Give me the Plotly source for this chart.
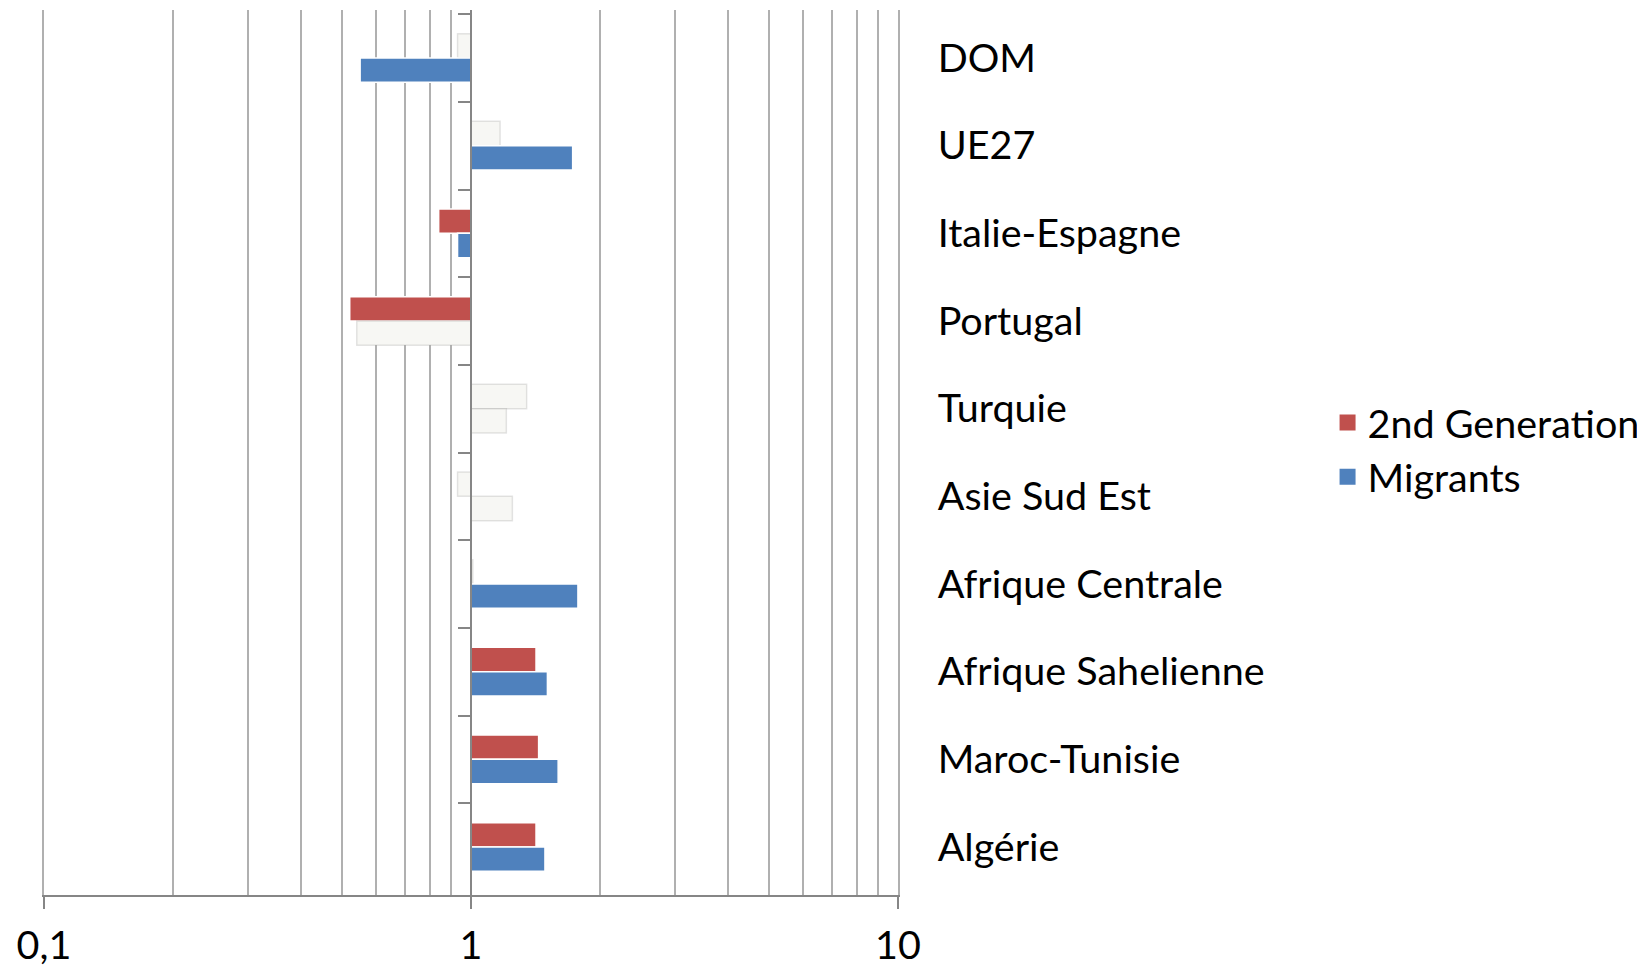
import plotly.graph_objects as go

# categories, top to bottom as in the chart
categories = ["DOM", "UE27", "Italie-Espagne", "Portugal", "Turquie",
              "Asie Sud Est", "Afrique Centrale", "Afrique Sahelienne",
              "Maroc-Tunisie", "Algérie"]

# odds ratios (log scale, bars drawn from 1)
second_gen = [0.93, 1.17, 0.84, 0.52, 1.35, 0.93, 1.01, 1.42, 1.44, 1.42]
migrants = [0.55, 1.73, 0.93, 0.54, 1.21, 1.25, 1.78, 1.51, 1.60, 1.49]

# significant -> coloured, otherwise drawn near-white
second_gen_sig = [False, False, True, True, False, False, False, True, True, True]
migrants_sig = [True, True, True, False, False, False, True, True, True, True]

x_tickvals = [0.1, 1, 10]
x_ticktext = ["0,1", "1", "10"]

RED = "#C0504D"
BLUE = "#4F81BD"
PALE = "#F7F7F4"
GRID = "#B0B0B0"
AXIS = "#868686"
FONT = "Lato, Carlito, Calibri, sans-serif"
FS = 39.5


def bar_trace(name, values, sig, color, group):
    colors = [color if s else PALE for s in sig]
    lines = ["white" if s else "rgba(0,0,0,0.10)" for s in sig]
    return go.Bar(
        name=name,
        y=categories,
        x=[v - 1 for v in values],
        base=1,
        orientation="h",
        offsetgroup=group,
        legendgroup=group,
        showlegend=False,
        marker=dict(color=colors, line=dict(color=lines, width=1.5)),
        customdata=values,
        hovertemplate="%{y}: %{customdata}<extra>" + name + "</extra>",
    )


def legend_entry(name, color, group):
    return go.Scatter(x=[None], y=[None], mode="markers", name=name,
                      legendgroup=group,
                      marker=dict(symbol="square", size=22, color=color))


fig = go.Figure()
fig.add_trace(bar_trace("2nd Generation", second_gen, second_gen_sig, RED, "g2"))
fig.add_trace(bar_trace("Migrants", migrants, migrants_sig, BLUE, "mig"))
fig.add_trace(legend_entry("2nd Generation", RED, "g2"))
fig.add_trace(legend_entry("Migrants", BLUE, "mig"))

# invisible helper so the vertical axis at x=1 can be drawn
fig.add_trace(go.Scatter(x=[1] * len(categories), y=categories, yaxis="y2",
                         mode="markers", marker=dict(opacity=0),
                         showlegend=False, hoverinfo="skip"))

# the page body adds an 8px offset, margins compensate for it
fig.update_layout(
    width=1645,
    height=969,
    margin=dict(l=36, r=755, t=2, b=82),
    paper_bgcolor="white",
    plot_bgcolor="white",
    font=dict(family=FONT, size=FS, color="black"),
    barmode="group",
    bargap=0.445,
    bargroupgap=0,
    showlegend=True,
    legend=dict(x=1.503, xanchor="left", y=0.503, yanchor="middle",
                font=dict(size=FS), traceorder="normal",
                bgcolor="rgba(0,0,0,0)", itemsizing="trace",
                tracegroupgap=0),
    xaxis=dict(
        type="log",
        range=[-1, 1],
        tickvals=x_tickvals,
        ticktext=x_ticktext,
        ticks="outside",
        ticklen=12,
        tickcolor=AXIS,
        tickwidth=1.5,
        showline=True,
        linecolor=AXIS,
        linewidth=1.5,
        showgrid=True,
        gridcolor=GRID,
        gridwidth=1.5,
        minor=dict(dtick="D1", showgrid=True, gridcolor=GRID, gridwidth=1.5),
        tickfont=dict(size=FS),
        ticklabelstandoff=3,
        zeroline=False,
        automargin=False,
    ),
    yaxis=dict(
        type="category",
        categoryorder="array",
        categoryarray=categories,
        autorange="reversed",
        side="right",
        showline=True,
        mirror=True,
        linecolor=GRID,
        linewidth=1.5,
        showgrid=False,
        ticks="",
        ticklabelstandoff=30,
        tickfont=dict(size=FS),
        automargin=False,
    ),
    yaxis2=dict(
        type="category",
        categoryorder="array",
        categoryarray=categories,
        overlaying="y",
        matches="y",
        anchor="free",
        position=0.5,
        side="left",
        showline=True,
        linecolor=AXIS,
        linewidth=1.5,
        ticks="outside",
        tickson="boundaries",
        ticklen=12,
        tickcolor=AXIS,
        tickwidth=1.5,
        showticklabels=False,
        showgrid=False,
        automargin=False,
    ),
)

fig.write_html("out.html")
